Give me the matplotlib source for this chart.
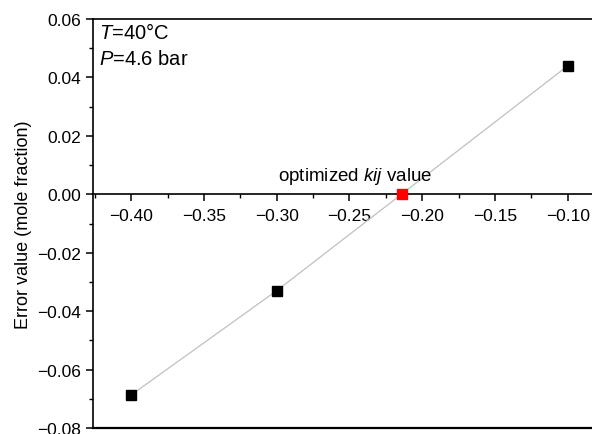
import matplotlib
matplotlib.use("Agg")
import matplotlib.pyplot as plt
from matplotlib.ticker import MultipleLocator, FuncFormatter

# data
kij = [-0.40, -0.30, -0.10]
error = [-0.0687, -0.0330, 0.0440]
kij_opt = -0.2138
error_opt = 0.0

plt.rcParams['font.family'] = ['Liberation Sans', 'DejaVu Sans']
plt.rcParams['mathtext.fontset'] = 'custom'
plt.rcParams['mathtext.rm'] = 'Liberation Sans'
plt.rcParams['mathtext.it'] = 'Liberation Sans:italic'
plt.rcParams['font.size'] = 12

fig = plt.figure(figsize=(5.92, 4.35), dpi=100)
ax = fig.add_axes([93 / 592, 6 / 435, 1 - 93 / 592, 409 / 435])

ax.plot(kij, error, color='#c0c0c0', lw=0.9, zorder=2)
ax.plot(kij, error, ls='none', marker='s', ms=7.6, color='black', zorder=3)
ax.plot([kij_opt], [error_opt], ls='none', marker='s', ms=7.6, color='red', zorder=4)

ax.set_xlim(-0.4262, -0.0834)
ax.set_ylim(-0.08, 0.06)

ax.spines['bottom'].set_position(('data', 0))
ax.spines['right'].set_visible(False)
for s in ['left', 'top', 'bottom']:
    ax.spines[s].set_linewidth(1.2)
ax.axhline(-0.08, color='black', lw=1.6, clip_on=False)

fmt = FuncFormatter(lambda v, pos: ('%.2f' % v).replace('-', '\u2212'))
ax.xaxis.set_major_locator(MultipleLocator(0.05))
ax.xaxis.set_minor_locator(MultipleLocator(0.025))
ax.yaxis.set_major_locator(MultipleLocator(0.02))
ax.yaxis.set_minor_locator(MultipleLocator(0.01))
ax.xaxis.set_major_formatter(fmt)
ax.yaxis.set_major_formatter(fmt)
ax.tick_params(which='major', direction='out', length=5, width=1.1, labelsize=12.5)
ax.tick_params(which='minor', direction='out', length=3, width=1.0)
ax.tick_params(axis='x', which='both', pad=5)

ax.set_ylabel('Error value (mole fraction)', fontsize=13, labelpad=4)

ax.text(0.012, 0.992, '$T$=40°C', transform=ax.transAxes, ha='left', va='top', fontsize=14.5)
ax.text(0.012, 0.926, '$P$=4.6 bar', transform=ax.transAxes, ha='left', va='top', fontsize=14.5)
ax.text(-0.2459, 0.0028, 'optimized $kij$ value', ha='center', va='bottom', fontsize=13.5)

fig.savefig('out.png', dpi=100)
